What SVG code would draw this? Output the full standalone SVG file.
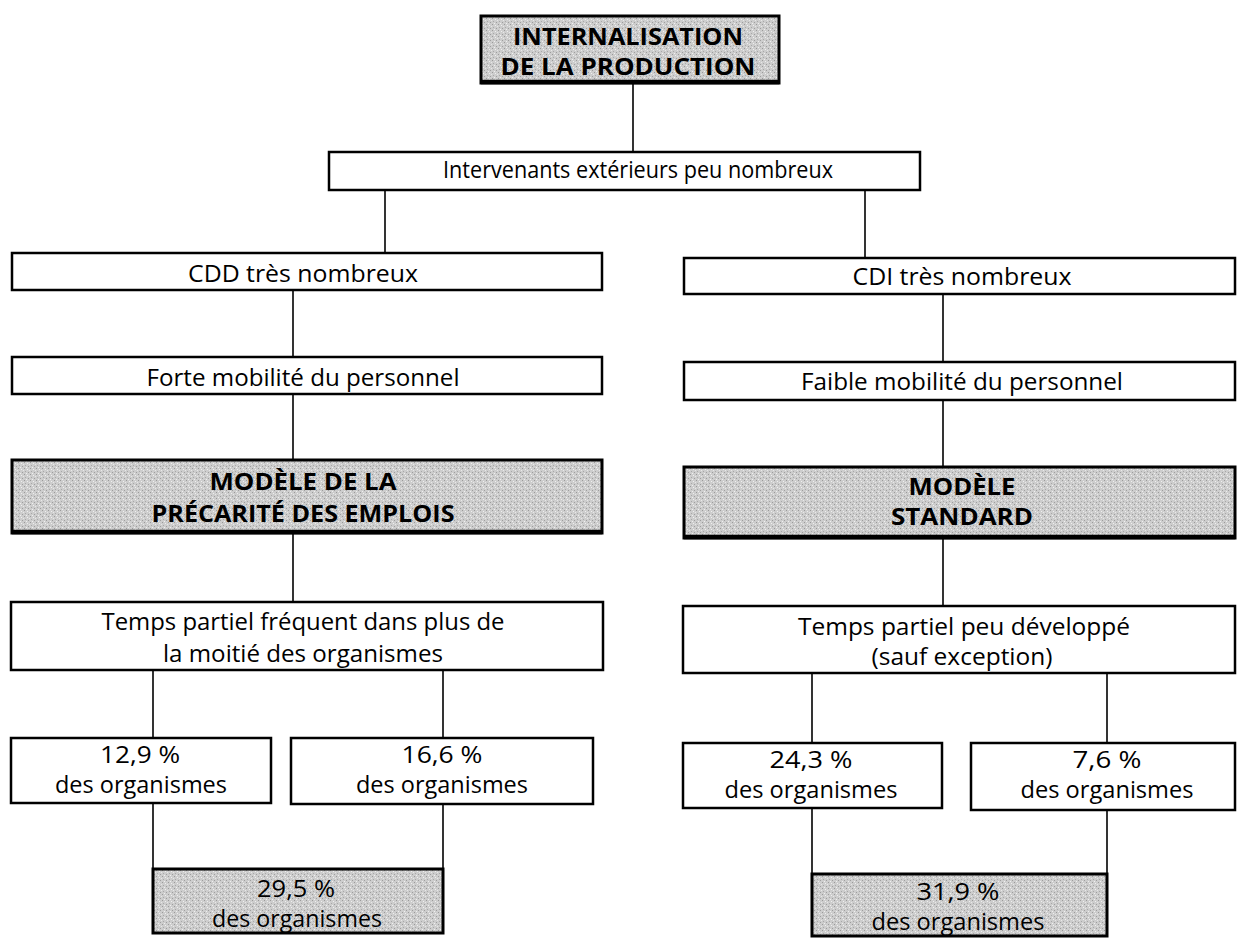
<svg xmlns="http://www.w3.org/2000/svg" width="1239" height="938" viewBox="0 0 1239 938">
<defs>
  <pattern id="stipple" width="6" height="6" patternUnits="userSpaceOnUse">
    <rect width="6" height="6" fill="#cdcdcd"/>
    <rect x="0" y="0" width="1" height="1" fill="#9a9a9a"/>
    <rect x="3" y="1" width="1" height="1" fill="#efefef"/>
    <rect x="1" y="3" width="1" height="1" fill="#a8a8a8"/>
    <rect x="4" y="4" width="1" height="1" fill="#9e9e9e"/>
    <rect x="5" y="2" width="1" height="1" fill="#e8e8e8"/>
    <rect x="2" y="5" width="1" height="1" fill="#f0f0f0"/>
  </pattern>
</defs>
<style>
  .box{fill:#ffffff;stroke:#000;stroke-width:2.5}
  .gbox{fill:url(#stipple);stroke:#000;stroke-width:3}
  .shadow{stroke:#000;stroke-width:4.5;fill:none}
  .t{font-family:"Open Sans","Liberation Sans",sans-serif;font-size:23px;fill:#000;text-anchor:middle}
  .b{font-family:"Open Sans","Liberation Sans",sans-serif;font-size:23px;font-weight:bold;fill:#000;text-anchor:middle}
  .conn line{stroke:#000;stroke-width:1.6}
</style>
<rect width="1239" height="938" fill="#fff"/>
<g class="conn" id="connectors">
  <line x1="633" y1="83" x2="633" y2="152"/>
  <line x1="385" y1="190" x2="385" y2="253"/>
  <line x1="865" y1="190" x2="865" y2="258"/>
  <line x1="293" y1="290" x2="293" y2="357"/>
  <line x1="293" y1="394" x2="293" y2="460"/>
  <line x1="293" y1="533" x2="293" y2="602"/>
  <line x1="943" y1="294" x2="943" y2="362"/>
  <line x1="943" y1="400" x2="943" y2="467"/>
  <line x1="943" y1="538" x2="943" y2="606"/>
  <line x1="153" y1="670" x2="153" y2="738"/>
  <line x1="443" y1="670" x2="443" y2="738"/>
  <line x1="153" y1="803" x2="153" y2="869"/>
  <line x1="443" y1="804" x2="443" y2="869"/>
  <line x1="812" y1="673" x2="812" y2="743"/>
  <line x1="1107" y1="673" x2="1107" y2="743"/>
  <line x1="812" y1="808" x2="812" y2="874"/>
  <line x1="1107" y1="810" x2="1107" y2="874"/>
</g>
<g id="n-internalisation">
  <rect class="gbox" x="481" y="16" width="298" height="67"/>
  <line class="shadow" x1="481" y1="82" x2="779" y2="82"/>
  <text class="b" x="628" y="45" textLength="230" lengthAdjust="spacingAndGlyphs">INTERNALISATION</text>
  <text class="b" x="628" y="75" textLength="255" lengthAdjust="spacingAndGlyphs">DE LA PRODUCTION</text>
</g>
<g id="n-intervenants">
  <rect class="box" x="329" y="152" width="591" height="38"/>
  <text class="t" x="638" y="178" textLength="390" lengthAdjust="spacingAndGlyphs">Intervenants extérieurs peu nombreux</text>
</g>
<g id="n-cdd">
  <rect class="box" x="12" y="253" width="590" height="37"/>
  <text class="t" x="303" y="282" textLength="230" lengthAdjust="spacingAndGlyphs">CDD très nombreux</text>
</g>
<g id="n-cdi">
  <rect class="box" x="684" y="258" width="551" height="36"/>
  <text class="t" x="962" y="285" textLength="219" lengthAdjust="spacingAndGlyphs">CDI très nombreux</text>
</g>
<g id="n-forte">
  <rect class="box" x="12" y="357" width="590" height="37"/>
  <text class="t" x="303" y="386" textLength="313" lengthAdjust="spacingAndGlyphs">Forte mobilité du personnel</text>
</g>
<g id="n-faible">
  <rect class="box" x="684" y="362" width="551" height="38"/>
  <text class="t" x="962" y="390" textLength="322" lengthAdjust="spacingAndGlyphs">Faible mobilité du personnel</text>
</g>
<g id="n-precarite">
  <rect class="gbox" x="12" y="460" width="590" height="73"/>
  <line class="shadow" x1="12" y1="532" x2="602" y2="532"/>
  <text class="b" x="303" y="490" textLength="187" lengthAdjust="spacingAndGlyphs">MODÈLE DE LA</text>
  <text class="b" x="303" y="522" textLength="303" lengthAdjust="spacingAndGlyphs">PRÉCARITÉ DES EMPLOIS</text>
</g>
<g id="n-standard">
  <rect class="gbox" x="684" y="467" width="551" height="71"/>
  <line class="shadow" x1="684" y1="537" x2="1235" y2="537"/>
  <text class="b" x="962" y="495" textLength="107" lengthAdjust="spacingAndGlyphs">MODÈLE</text>
  <text class="b" x="962" y="525" textLength="142" lengthAdjust="spacingAndGlyphs">STANDARD</text>
</g>
<g id="n-tp-frequent">
  <rect class="box" x="11" y="602" width="592" height="68" stroke-width="3"/>
  <text class="t" x="303" y="630" textLength="403" lengthAdjust="spacingAndGlyphs">Temps partiel fréquent dans plus de</text>
  <text class="t" x="303" y="662" textLength="280" lengthAdjust="spacingAndGlyphs">la moitié des organismes</text>
</g>
<g id="n-tp-peu">
  <rect class="box" x="683" y="606" width="552" height="67" stroke-width="3"/>
  <text class="t" x="964" y="635" textLength="332" lengthAdjust="spacingAndGlyphs">Temps partiel peu développé</text>
  <text class="t" x="962" y="665" textLength="181" lengthAdjust="spacingAndGlyphs">(sauf exception)</text>
</g>
<g id="n-129">
  <rect class="box" x="11" y="738" width="260" height="65"/>
  <text class="t" x="140" y="763" textLength="80" lengthAdjust="spacingAndGlyphs">12,9 %</text>
  <text class="t" x="141" y="793" textLength="172" lengthAdjust="spacingAndGlyphs">des organismes</text>
</g>
<g id="n-166">
  <rect class="box" x="291" y="738" width="302" height="66"/>
  <text class="t" x="442" y="763" textLength="81" lengthAdjust="spacingAndGlyphs">16,6 %</text>
  <text class="t" x="442" y="793" textLength="172" lengthAdjust="spacingAndGlyphs">des organismes</text>
</g>
<g id="n-295">
  <rect class="gbox" x="153" y="869" width="290" height="64"/>
  <text class="t" x="296" y="897" textLength="78" lengthAdjust="spacingAndGlyphs">29,5 %</text>
  <text class="t" x="297" y="927" textLength="170" lengthAdjust="spacingAndGlyphs">des organismes</text>
</g>
<g id="n-243">
  <rect class="box" x="683" y="743" width="259" height="65"/>
  <text class="t" x="811" y="768" textLength="83" lengthAdjust="spacingAndGlyphs">24,3 %</text>
  <text class="t" x="811" y="798" textLength="173" lengthAdjust="spacingAndGlyphs">des organismes</text>
</g>
<g id="n-76">
  <rect class="box" x="971" y="743" width="264" height="67"/>
  <text class="t" x="1107" y="768" textLength="69" lengthAdjust="spacingAndGlyphs">7,6 %</text>
  <text class="t" x="1107" y="798" textLength="173" lengthAdjust="spacingAndGlyphs">des organismes</text>
</g>
<g id="n-319">
  <rect class="gbox" x="812" y="874" width="295" height="62"/>
  <text class="t" x="958" y="900" textLength="83" lengthAdjust="spacingAndGlyphs">31,9 %</text>
  <text class="t" x="958" y="930" textLength="173" lengthAdjust="spacingAndGlyphs">des organismes</text>
</g>
</svg>
